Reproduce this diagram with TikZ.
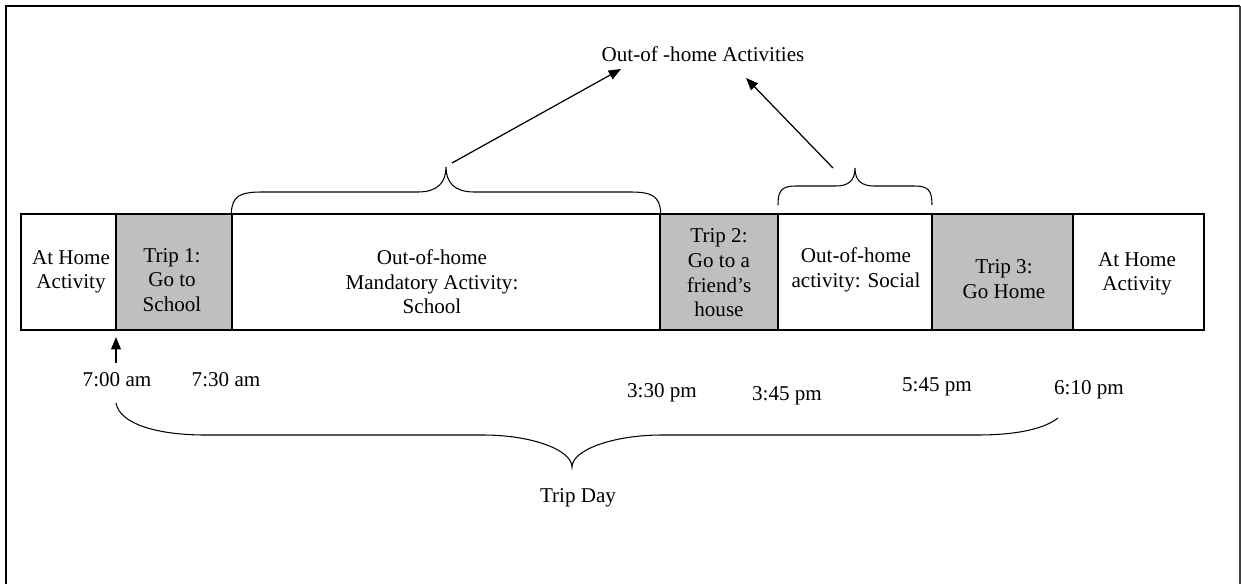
\documentclass[tikz,border=0pt]{standalone}
\usepackage{fontspec}
\setmainfont{Liberation Serif}
\usetikzlibrary{arrows.meta}
\definecolor{tripgray}{HTML}{BFBFBF}
\definecolor{framegray}{HTML}{404040}
\begin{document}
\begin{tikzpicture}[x=0.02cm,y=-0.02cm,
  every node/.style={font=\fontsize{12}{14}\selectfont, inner sep=0pt, align=center},
  cell/.style={draw, line width=0.8pt, rectangle, minimum height=116*0.02cm},
  trip/.style={cell, fill=tripgray},
  lbl/.style={text height=1.6ex, text depth=0.4ex},
  brace/.style={line width=0.6pt},
  arr/.style={line width=0.7pt, -{Triangle[length=7pt,width=5.5pt]}},
  frame/.style={line width=1.1pt}]
\useasboundingbox (0,0) rectangle (1241,584);
% outer frame (open at the bottom)
\draw[frame] (6,584) -- (6,6) -- (1240,6);
\draw[frame, framegray] (1240,6) -- (1240,584);
% cells
\node[cell, minimum width=95*0.02cm] (c1) at (68.5,272) {};
\node[trip, minimum width=116*0.02cm] (c2) at (174,272) {};
\node[cell, minimum width=428*0.02cm] (c3) at (446,272) {};
\node[trip, minimum width=118*0.02cm] (c4) at (719,272) {};
\node[cell, minimum width=154*0.02cm] (c5) at (855,272) {};
\node[trip, minimum width=141*0.02cm] (c6) at (1002.5,272) {};
\node[cell, minimum width=131*0.02cm] (c7) at (1138.5,272) {};
% cell texts
\node (t1) at (71,272) {At Home\\Activity};
\node (t2) at (172,280) {Trip 1:\\Go to\\School};
\node (t3) at (432,282) {Out-of-home\\Mandatory Activity:\\School};
\node (t4) at (719,273) {Trip 2:\\Go to a\\friend’s\\house};
\node (t5) at (856,270) {Out-of-home\\activity: Social};
\node (t6) at (1004,279) {Trip 3:\\Go Home};
\node (t7) at (1137,274) {At Home\\Activity};
% time labels
\node[lbl] (h1) at (117,382) {7:00 am};
\node[lbl] (h2) at (226,382) {7:30 am};
\node[lbl] (h3) at (662,393) {3:30 pm};
\node[lbl] (h4) at (787,396) {3:45 pm};
\node[lbl] (h5) at (937,387) {5:45 pm};
\node[lbl] (h6) at (1089,390) {6:10 pm};
\node[lbl] (title) at (703,57) {Out-of -home Activities};
\node[lbl] (day) at (578,498) {Trip Day};
% arrow at 7:00
\coordinate (a0s) at (116,363);
\coordinate (a0e) at (116,337);
\draw[arr] (a0s) -- (a0e);
% upper brace over school
\draw[brace] (c3.north west) .. controls (232,196) and (240,192) .. (262,192)
  -- (418,192) .. controls (438,192) and (446,182) .. (446,167)
  .. controls (446,182) and (454,192) .. (474,192)
  -- (630,192) .. controls (652,192) and (660,196) .. (c3.north east);
% upper brace over social
\draw[brace] (778,205) .. controls (778,190) and (782,186) .. (796,186)
  -- (836,186) .. controls (849,186) and (855,180) .. (855,168)
  .. controls (855,180) and (861,186) .. (874,186)
  -- (914,186) .. controls (928,186) and (932,190) .. (932,205);
% arrows to title
\coordinate (b1) at (452,163);
\coordinate (b1e) at (621,69);
\coordinate (b2) at (833,168);
\coordinate (b2e) at (746,78);
\draw[arr] (b1) -- (b1e);
\draw[arr] (b2) -- (b2e);
% bottom brace (trip day)
\draw[brace] (116,403) .. controls (120,425) and (160,435) .. (205,435)
  -- (483,435) .. controls (532,435) and (572,450) .. (572,467)
  .. controls (572,450) and (613,435) .. (662,435)
  -- (977,435) .. controls (1020,435) and (1045,428) .. (1058,418);
\end{tikzpicture}
\end{document}
